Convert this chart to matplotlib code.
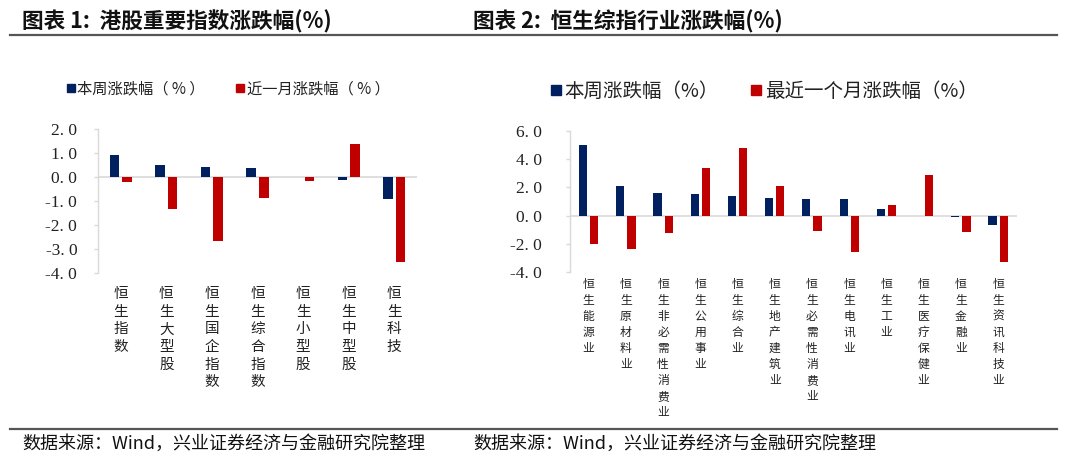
import matplotlib
matplotlib.use("Agg")
import matplotlib.pyplot as plt
import numpy as np
from matplotlib.lines import Line2D

plt.rcParams['font.family'] = ['Noto Sans CJK SC', 'DejaVu Sans']

# ---------------- data ----------------
left_categories = ["恒生指数", "恒生大型股", "恒生国企指数", "恒生综合指数",
                   "恒生小型股", "恒生中型股", "恒生科技"]
left_week = [0.93, 0.52, 0.42, 0.38, 0.0, -0.12, -0.90]
left_month = [-0.18, -1.33, -2.65, -0.85, -0.15, 1.37, -3.52]
left_yticks = [2.0, 1.0, 0.0, -1.0, -2.0, -3.0, -4.0]

right_categories = ["恒生能源业", "恒生原材料业", "恒生非必需性消费业", "恒生公用事业",
                    "恒生综合业", "恒生地产建筑业", "恒生必需性消费业", "恒生电讯业",
                    "恒生工业", "恒生医疗保健业", "恒生金融业", "恒生资讯科技业"]
right_week = [5.0, 2.1, 1.6, 1.56, 1.4, 1.28, 1.2, 1.2, 0.47, 0.0, -0.12, -0.64]
right_month = [-2.0, -2.4, -1.2, 3.4, 4.8, 2.1, -1.06, -2.55, 0.78, 2.91, -1.13, -3.31]
right_yticks = [6.0, 4.0, 2.0, 0.0, -2.0, -4.0]

left_title = "图表 1:  港股重要指数涨跌幅(%)"
right_title = "图表 2:  恒生综指行业涨跌幅(%)"
left_legend = ["本周涨跌幅（ % ）", "近一月涨跌幅（ % ）"]
right_legend = ["本周涨跌幅（%）", "最近一个月涨跌幅（%）"]
source_text = "数据来源：Wind，兴业证券经济与金融研究院整理"

BLUE = "#002060"
RED = "#C00000"
GRID = "#d9d9d9"

W, H = 1080, 461
fig = plt.figure(figsize=(W / 100, H / 100), dpi=100)


def fx(px):
    return px / W


def fy(py):
    return 1 - py / H


def draw(ax, cats, a, b, yticks, width, off, catfs, xpad, lsp):
    x = np.arange(len(cats))
    ax.bar(x - off, a, width, color=BLUE, zorder=2)
    ax.bar(x + off, b, width, color=RED, zorder=2)
    ax.set_xlim(-0.5, len(cats) - 0.5)
    ax.set_ylim(min(yticks), max(yticks))
    ax.axhline(0, color=GRID, lw=1.2, zorder=1)
    for s in ['top', 'right', 'bottom']:
        ax.spines[s].set_visible(False)
    ax.spines['left'].set_color(GRID)
    ax.spines['left'].set_linewidth(1)
    ax.set_yticks(yticks)
    ax.set_yticklabels([f"{v:.1f}".replace('.', '. ') for v in yticks],
                       fontfamily='Liberation Serif', fontsize=12.5, color='#222222')
    ax.tick_params(axis='y', length=3, color=GRID, width=1)
    ax.set_xticks(x)
    ax.set_xticklabels(["\n".join(c) for c in cats], fontsize=catfs,
                       linespacing=lsp, va='top', color='#222222')
    ax.tick_params(axis='x', length=0, pad=xpad)
    ax.patch.set_alpha(0)


# left chart
axL = fig.add_axes([fx(98), fy(273.3), fx(417 - 98), (273.3 - 129.3) / H])
draw(axL, left_categories, left_week, left_month, left_yticks, 0.21, 0.137, 10.5, 10, 1.33)
axL.tick_params(axis='y', pad=12)

# right chart
axR = fig.add_axes([fx(570), fy(272), fx(1016.7 - 570), (272 - 131) / H])
draw(axR, right_categories, right_week, right_month, right_yticks, 0.22, 0.15, 8.5, 4, 1.3)
axR.tick_params(axis='y', pad=17)

# legends
def legend(labels, x, y, fs, colsp, msize):
    handles = [Line2D([0], [0], marker='s', ls='none', color=c, markersize=msize)
               for c in (BLUE, RED)]
    fig.legend(handles, labels, loc='center left', bbox_to_anchor=(fx(x), fy(y)),
               ncol=2, frameon=False, fontsize=fs, handlelength=0.6,
               handletextpad=0.15, columnspacing=colsp, borderpad=0, borderaxespad=0,
               labelcolor='#222222')

legend(left_legend, 66, 89, 11, 2.0, 6)
legend(right_legend, 550, 91, 14, 1.6, 7)

# titles
fig.text(fx(22), fy(22), left_title, fontsize=15.6, fontweight='bold', va='center', ha='left', color='#111111')
fig.text(fx(473), fy(22), right_title, fontsize=15.6, fontweight='bold', va='center', ha='left', color='#111111')

# rules
fig.add_artist(Line2D([fx(10), fx(1057)], [fy(35), fy(35)], color='#555555', lw=1.6))
fig.add_artist(Line2D([fx(10), fx(1057)], [fy(429), fy(429)], color='#555555', lw=1.6))

# sources
fig.text(fx(22), fy(444), source_text, fontsize=13, va='center', ha='left', color='#111111')
fig.text(fx(473), fy(444), source_text, fontsize=13, va='center', ha='left', color='#111111')

fig.savefig("out.png", dpi=100)
